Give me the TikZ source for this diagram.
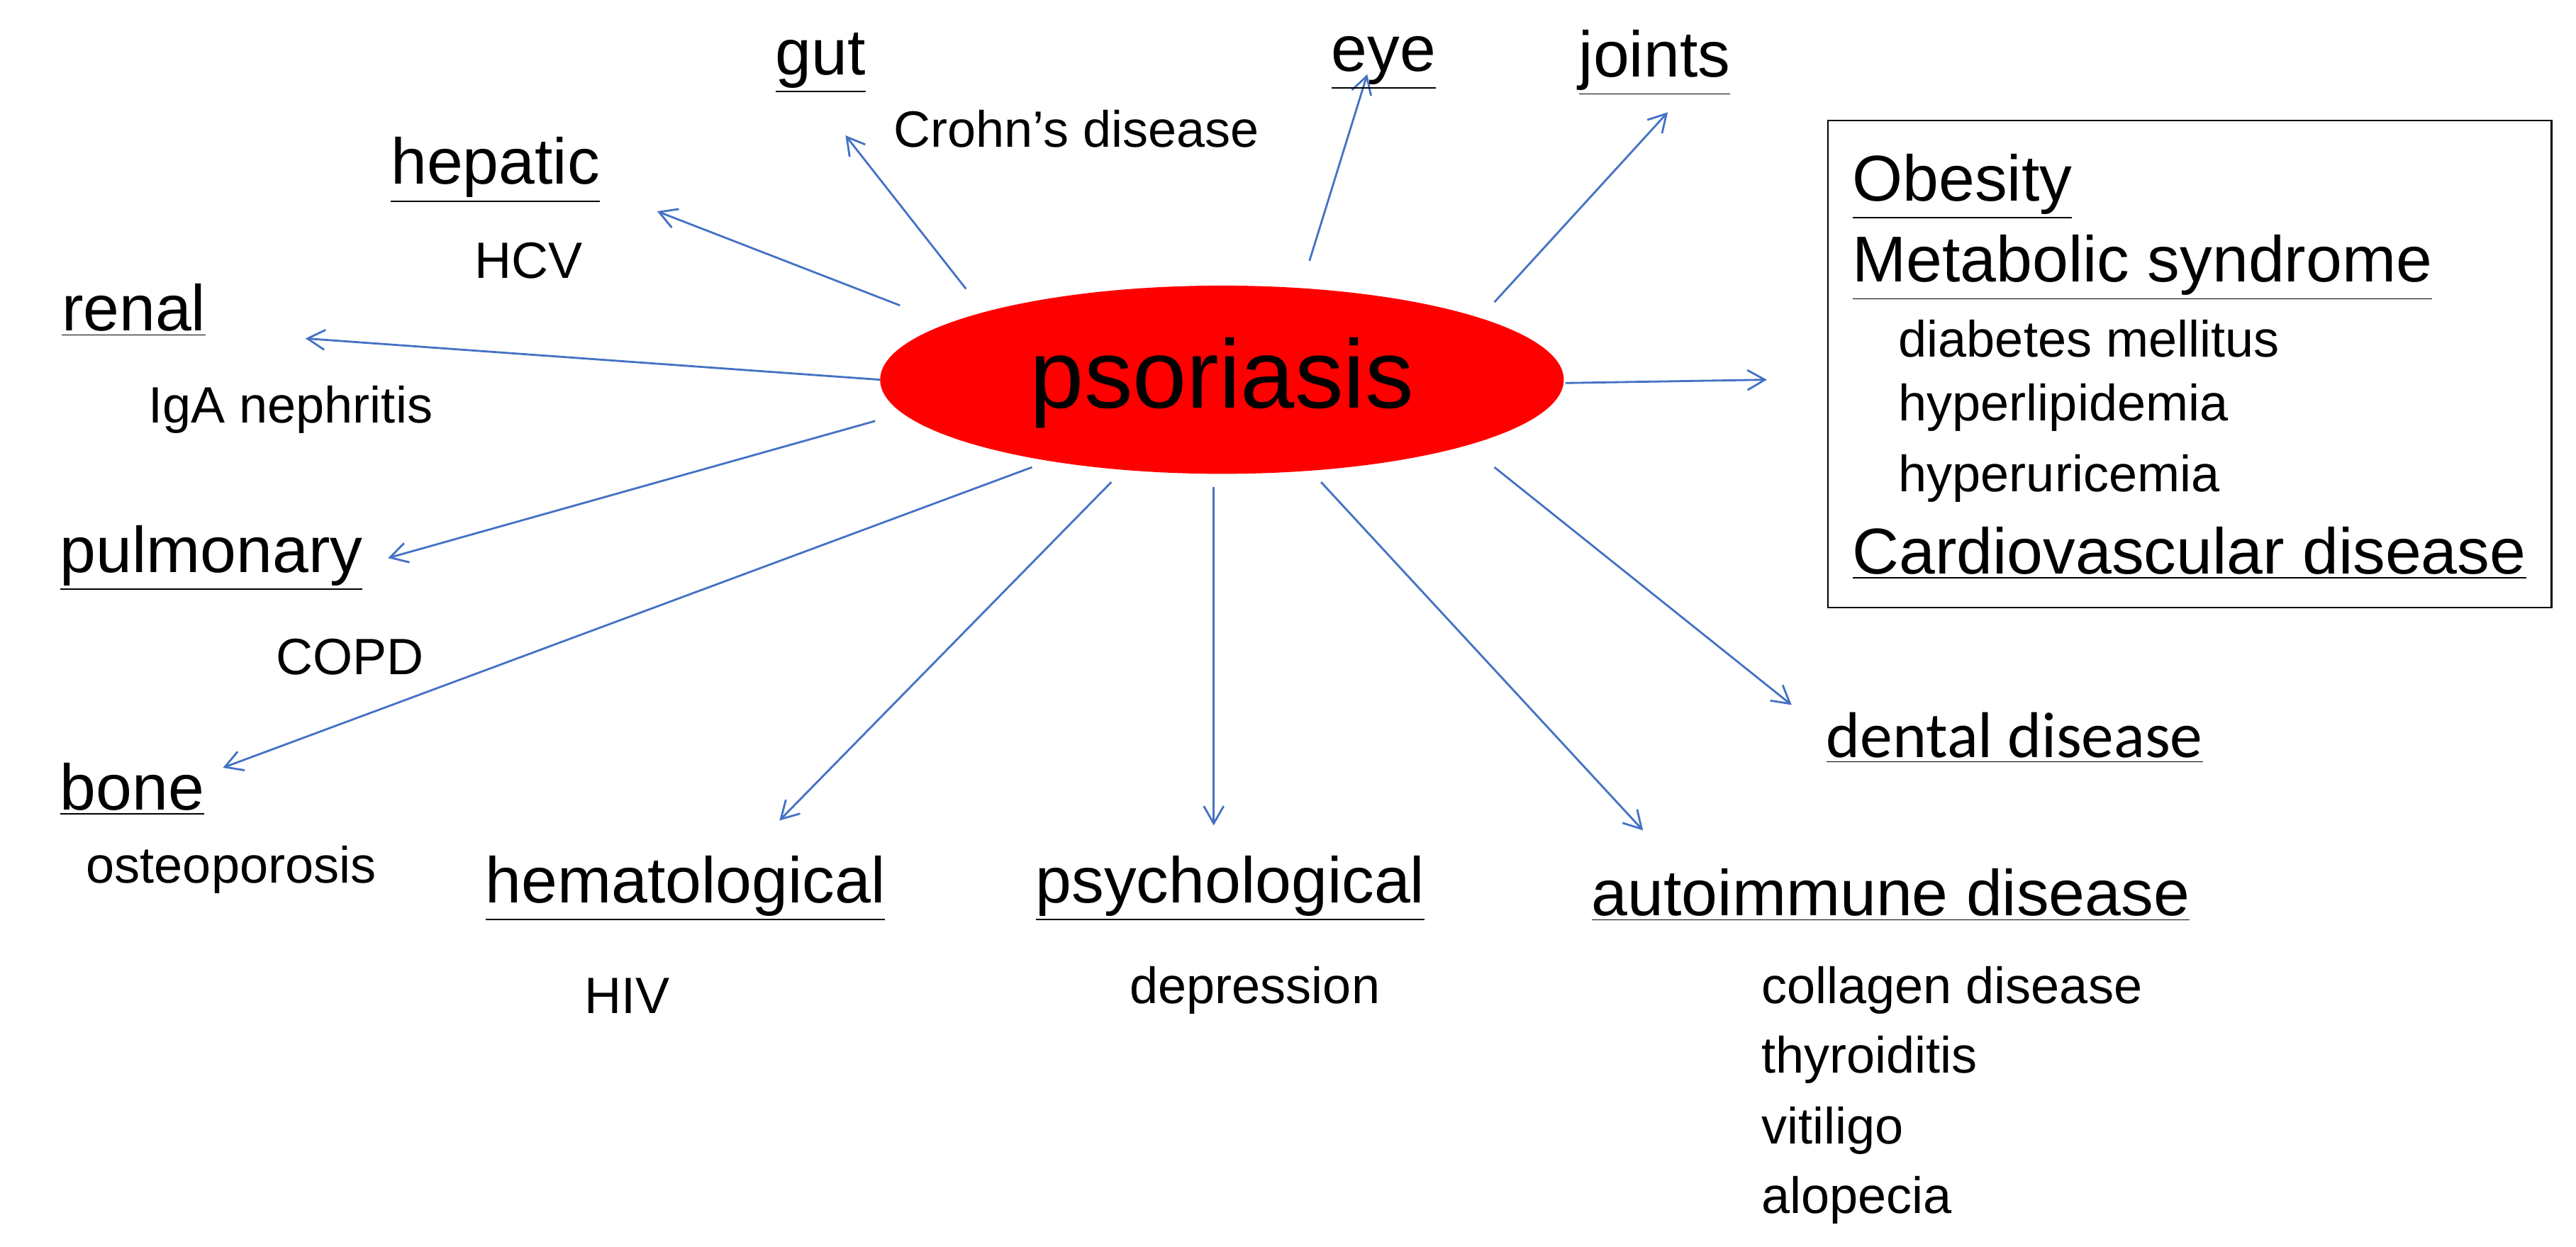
\documentclass[tikz,border=0pt]{standalone}
\usepackage{fontspec}
\setmainfont{Liberation Sans}
\newfontfamily\calfont{Carlito}
\usetikzlibrary{arrows.meta}
\definecolor{arr}{RGB}{68,114,196}
\begin{document}
\begin{tikzpicture}[x=0.02329cm,y=-0.02329cm,
  big/.style={font=\fontsize{26}{30}\selectfont,inner sep=1pt},
  small/.style={font=\fontsize{20.5}{24}\selectfont,inner sep=1pt},
  link/.style={draw=arr,line width=0.8pt,-{Straight Barb[length=7pt,width=8pt]}}]
\useasboundingbox (0,0) rectangle (1560,755);
\fill[red] (740,230) ellipse [x radius=207, y radius=57];
\node[font=\fontsize{39}{44}\selectfont] (ps) at (740,232) {psoriasis};
\coordinate (gutA) at (585,175); \coordinate (gutB) at (512,82);
\coordinate (eyeA) at (793,158); \coordinate (eyeB) at (828,45);
\coordinate (joA) at (905,183); \coordinate (joB) at (1010,68);
\coordinate (heA) at (545,185); \coordinate (heB) at (398,128);
\coordinate (reA) at (533,230); \coordinate (reB) at (185,205);
\coordinate (riA) at (948,232); \coordinate (riB) at (1070,230);
\coordinate (puA) at (530,255); \coordinate (puB) at (235,338);
\coordinate (boA) at (625,283); \coordinate (boB) at (135,465);
\coordinate (hmA) at (673,292); \coordinate (hmB) at (472,497);
\coordinate (psA) at (735,295); \coordinate (psB) at (735,500);
\coordinate (auA) at (800,292); \coordinate (auB) at (995,503);
\coordinate (deA) at (905,283); \coordinate (deB) at (1085,427);
\foreach \n in {gut,eye,jo,he,re,ri,pu,bo,hm,ps,au,de} \draw[link] (\n A) -- (\n B);
\node[big] (gut) at (497,38) {\underline{gut}};
\node[small] (crohn) at (652,78) {Crohn’s disease};
\node[big] (eye) at (838,38) {\underline{eye}};
\node[big] (joints) at (1002,38) {\underline{joints}};
\node[big] (hep) at (300,103) {\underline{hepatic}};
\node[small] (hcv) at (320,158) {HCV};
\node[big] (renal) at (81,188) {\underline{renal}};
\node[small] (iga) at (176,248) {IgA nephritis};
\node[big] (pul) at (128,338) {\underline{pulmonary}};
\node[small] (copd) at (212,398) {COPD};
\node[big] (bone) at (80,478) {\underline{bone}};
\node[small] (ost) at (140,527) {osteoporosis};
\node[big] (hem) at (415,538) {\underline{hematological}};
\node[small] (hiv) at (380,603) {HIV};
\node[big] (psy) at (745,538) {\underline{psychological}};
\node[small] (dep) at (760,600) {depression};
\node[big] (auto) at (1145,542) {\underline{autoimmune disease}};
\node[small,anchor=west] (col) at (1065,600) {collagen disease};
\node[small,anchor=west] (thy) at (1065,642) {thyroiditis};
\node[small,anchor=west] (vit) at (1065,685) {vitiligo};
\node[small,anchor=west] (alo) at (1065,727) {alopecia};
\node[inner sep=1pt,font=\calfont\fontsize{26}{30}\selectfont] (den) at (1220,447) {\underline{dental disease}};
\draw[line width=0.8pt] (1107,73) rectangle (1545,368);
\node[big,anchor=west] (ob) at (1120,113) {\underline{Obesity}};
\node[big,anchor=west] (met) at (1120,162) {\underline{Metabolic syndrome}};
\node[small,anchor=west] (dm) at (1148,205) {diabetes mellitus};
\node[small,anchor=west] (hl) at (1148,247) {hyperlipidemia};
\node[small,anchor=west] (hu) at (1148,290) {hyperuricemia};
\node[big,anchor=west] (cv) at (1120,335) {\underline{Cardiovascular disease}};
\end{tikzpicture}
\end{document}
